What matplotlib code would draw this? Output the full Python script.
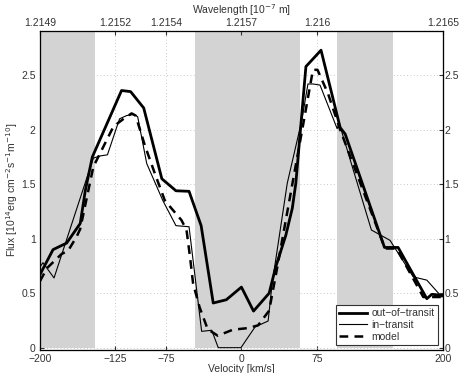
import numpy as np
import matplotlib
matplotlib.use('Agg')
from matplotlib import pyplot as plt

plt.rcParams['font.family'] = ['Liberation Sans', 'DejaVu Sans']

# out-of-transit (thick)
v_out = [-200, -187, -173.5, -160, -155, -148, -119, -110, -97, -79, -65, -52, -40, -28, -15, 0, 12, 27.5,
         34, 44, 50.5, 54, 64, 79, 98, 103, 142, 155.5, 184, 189, 200]
f_out = [0.67, 0.90, 0.96, 1.14, 1.44, 1.75, 2.36, 2.35, 2.20, 1.55, 1.44, 1.435, 1.12, 0.41, 0.44, 0.556, 0.336, 0.50,
         0.74, 1.03, 1.28, 1.51, 2.58, 2.73, 2.02, 1.96, 0.92, 0.92, 0.45, 0.49, 0.48]

# in-transit (thin)
v_in = [-200, -197, -186, -147, -140, -133, -121, -114, -107, -103, -94, -78, -65, -52, -39.5, -29.5, -23, -0.5, 13.5,
        26.5, 30.5, 45.5, 60, 66, 71, 78, 95, 97, 129, 147.5, 170.5, 184, 199, 200]
f_in = [0.74, 0.78, 0.64, 1.74, 1.76, 1.77, 2.10, 2.13, 2.14, 2.12, 1.69, 1.35, 1.12, 1.11, 0.15, 0.16, 0.0, 0.0, 0.19,
        0.245, 0.59, 1.51, 2.09, 2.42, 2.42, 2.41, 2.01, 2.06, 1.08, 0.985, 0.65, 0.62, 0.465, 0.47]

# model (dashed)
v_mod = [-200, -193, -178.5, -172, -163.5, -160, -155, -147, -127, -117, -109, -105, -96, -86, -76, -59.5, -54.5, -51,
         -48, -41.5, -33.5, -23.5, -8.5, 6.5, 16.5, 27.5, 35, 61.5, 71, 75.5, 86, 98, 142.5, 154, 180.5, 200]
f_mod = [0.61, 0.73, 0.86, 0.89, 1.02, 1.09, 1.31, 1.66, 2.03, 2.10, 2.15, 2.13, 1.86, 1.60, 1.35, 1.17, 1.08, 0.83,
         0.59, 0.37, 0.17, 0.11, 0.165, 0.18, 0.205, 0.34, 0.71, 2.06, 2.55, 2.55, 2.33, 2.0, 0.91, 0.91, 0.465, 0.465]

bands = [(-200, -145), (-46, 58), (95, 150)]
vticks = [-200, -125, -75, 0, 75, 200]
wl_labels = ['1.2149', '1.2152', '1.2154', '1.2157', '1.216', '1.2165']
yticks = [0, 0.5, 1, 1.5, 2, 2.5]
ytick_labels = ['0', '0.5', '1', '1.5', '2', '2.5']

txt = '#333333'
fig = plt.figure(figsize=(4.59, 3.73), dpi=100)
ax = fig.add_axes([0.087, 0.062, 0.878, 0.856])
ax.set_axisbelow(True)
for a, b in bands:
    ax.fill_between([a, b], 0, 2.9, color='#d3d3d3', lw=0, zorder=1)

ax.plot(v_out, f_out, 'k-', lw=2.0, label='out\u2212of\u2212transit', zorder=3)
ax.plot(v_in, f_in, 'k-', lw=0.8, label='in\u2212transit', zorder=3)
ax.plot(v_mod, f_mod, 'k--', lw=1.8, dashes=(3.5, 2.5), label='model', zorder=3)

ax.set_xlim(-200, 200)
ax.set_ylim(-0.02, 2.91)
ax.set_xticks(vticks)
ax.set_yticks(yticks)
ax.set_yticklabels(ytick_labels)
ax.grid(True, color='#b5b5b5', lw=0.6, dashes=(1, 3))
ax.tick_params(direction='in', labelsize=7.5, colors=txt, length=3, pad=3)
ax.set_xlabel('Velocity [km/s]', fontsize=7.5, color=txt, labelpad=0)
ax.set_ylabel('Flux [10$^{14}$erg cm$^{-2}$s$^{-1}$m$^{-10}$]', fontsize=7.5, color=txt, labelpad=1)
for s in ax.spines.values():
    s.set_color('#555555')
    s.set_linewidth(0.8)

right = ax.twinx()
right.set_ylim(ax.get_ylim())
right.set_yticks(yticks)
right.set_yticklabels(ytick_labels)
right.tick_params(direction='in', labelsize=7.5, colors=txt, length=3, pad=1.2)

top = ax.twiny()
top.set_xlim(ax.get_xlim())
top.set_xticks(vticks)
top.set_xticklabels(wl_labels)
top.tick_params(direction='in', labelsize=7.5, colors=txt, length=3, pad=2)
top.set_xlabel('Wavelength [10$^{-7}$ m]', fontsize=7.5, color=txt, labelpad=3)

leg = ax.legend(loc='lower right', fontsize=7.5, handlelength=2.7, borderaxespad=0.5,
                fancybox=False, framealpha=1, edgecolor='#333333', labelspacing=0.15,
                borderpad=0.3, handletextpad=0.4)
leg.get_frame().set_linewidth(0.8)
for t in leg.get_texts():
    t.set_color(txt)

fig.savefig('out.png', dpi=100)
